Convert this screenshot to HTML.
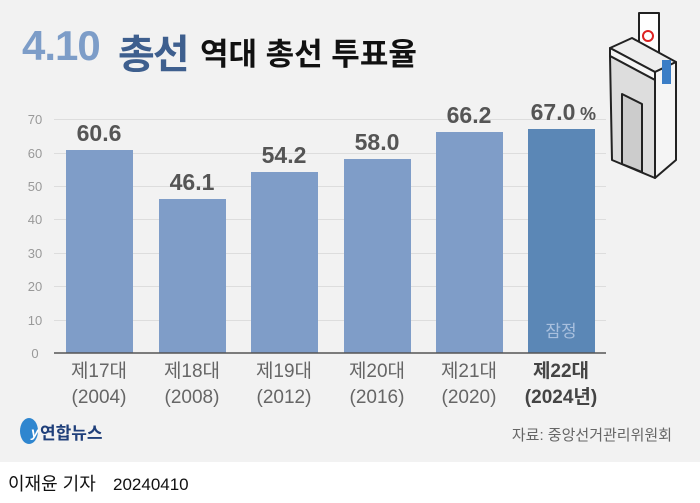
<!DOCTYPE html>
<html><head><meta charset="utf-8"><style>
body{margin:0;width:700px;height:503px;background:#fff;font-family:"Liberation Sans","Noto Sans CJK KR",sans-serif;position:relative;overflow:hidden}
.panel{position:absolute;left:0;top:0;width:700px;height:462px;background:#f2f2f2}
.t{position:absolute;white-space:nowrap}
</style></head><body>
<div class="panel"></div>
<div class="t" style="left:22px;top:22px;font-size:42px;font-weight:bold;letter-spacing:-1px;color:#7d9dc8">4.10</div>
<div class="t" style="left:118px;top:22px;font-size:40px;font-weight:bold;letter-spacing:-2px;color:#3e5f8e">총선</div>
<div class="t" style="left:200px;top:29px;font-size:31px;font-weight:bold;color:#111">역대 총선 투표율</div>
<svg width="700" height="503" style="position:absolute;left:0;top:0">
<g stroke="#ddd" stroke-width="1">
<line x1="54" x2="606" y1="119.5" y2="119.5"/><line x1="54" x2="606" y1="153.5" y2="153.5"/>
<line x1="54" x2="606" y1="186.5" y2="186.5"/><line x1="54" x2="606" y1="219.5" y2="219.5"/>
<line x1="54" x2="606" y1="253.5" y2="253.5"/><line x1="54" x2="606" y1="286.5" y2="286.5"/>
<line x1="54" x2="606" y1="320.5" y2="320.5"/></g>
<g font-size="13" fill="#999" text-anchor="middle" font-family="Liberation Sans">
<text x="35" y="124">70</text><text x="35" y="158">60</text><text x="35" y="191">50</text><text x="35" y="224">40</text>
<text x="35" y="258">30</text><text x="35" y="291">20</text><text x="35" y="325">10</text><text x="35" y="358">0</text></g>
<g fill="#7f9dc8">
<rect x="66" y="150" width="67" height="203"/><rect x="159" y="199" width="67" height="154"/>
<rect x="251" y="172" width="67" height="181"/><rect x="344" y="159" width="67" height="194"/>
<rect x="436" y="132" width="67" height="221"/></g>
<rect x="528" y="129" width="67" height="224" fill="#5b87b6"/>
<line x1="54" x2="606" y1="353" y2="353" stroke="#555" stroke-width="1.5"/>
<g font-size="23" font-weight="bold" fill="#555" text-anchor="middle" font-family="Liberation Sans">
<text x="99" y="141">60.6</text><text x="192" y="190">46.1</text><text x="284" y="163">54.2</text>
<text x="377" y="150">58.0</text><text x="469" y="123">66.2</text><text x="553" y="120">67.0</text></g>
<text x="580" y="120" font-size="18" font-weight="bold" fill="#555">%</text>
<text x="561" y="337" font-size="17" fill="#a9c0de" text-anchor="middle">잠정</text>
<g font-size="19" fill="#666" text-anchor="middle">
<text x="99" y="377">제17대</text><text x="99" y="403">(2004)</text>
<text x="192" y="377">제18대</text><text x="192" y="403">(2008)</text>
<text x="284" y="377">제19대</text><text x="284" y="403">(2012)</text>
<text x="377" y="377">제20대</text><text x="377" y="403">(2016)</text>
<text x="469" y="377">제21대</text><text x="469" y="403">(2020)</text>
<text x="561" y="377" font-weight="bold" fill="#444">제22대</text><text x="561" y="403" font-weight="bold" fill="#444">(2024년)</text></g>
<!-- ballot box -->
<g stroke="#222" stroke-width="2" fill="#fff" stroke-linejoin="round">
<rect x="639" y="13" width="20" height="45"/>
<path d="M610 48 L632 38 L676 62 L655 72 Z" fill="#eee"/>
<path d="M610 48 L655 72 L655 80 L610 56 Z" fill="#f5f5f5"/>
<path d="M610 56 L655 80 L655 178 L612 160 Z" fill="#ddd"/>
<path d="M655 72 L676 62 L676 160 L655 178 Z" fill="#f5f5f5"/>
<path d="M622 94 L642 104 L642 172 L622 164 Z" fill="#ccc"/>
</g>
<circle cx="648" cy="36" r="5" fill="none" stroke="#d22" stroke-width="2"/>
<rect x="662" y="60" width="9" height="24" fill="#3a7dc6"/>
<!-- logo -->
<ellipse cx="29" cy="431" rx="9" ry="13" fill="#2f86cf"/>
<text x="31" y="437" font-size="14" font-style="italic" fill="#fff" font-weight="bold">y</text>
<text x="40" y="439" font-size="17" font-weight="bold" fill="#1f3f7a">연합뉴스</text>
<text x="672" y="440" font-size="15" fill="#666" text-anchor="end">자료: 중앙선거관리위원회</text>
<text x="8" y="490" font-size="18" fill="#111">이재윤 기자</text>
<text x="113" y="490" font-size="17" fill="#111">20240410</text>
</svg>
</body></html>
